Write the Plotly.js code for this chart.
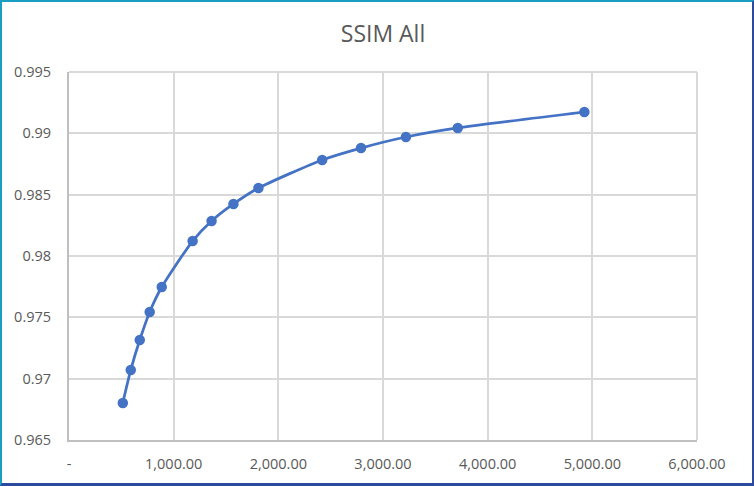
<!DOCTYPE html>
<html>
<head>
<meta charset="utf-8">
<script src="https://cdn.plot.ly/plotly-3.0.1.min.js"></script>
<style>
    html, body { margin: 0; padding: 0; background: #fff; }
    #frame {
        width: 754px; height: 486px; box-sizing: border-box;
        border-top: 2px solid #1a9fc2; border-left: 2px solid #1a9fc2;
        border-right: 2px solid #2d4b9e; border-bottom: 3px solid #2d4b9e;
    }
    #chart { width: 750px; height: 481px; }
</style>
</head>
<body>
<div id="frame"><div id="chart"></div></div>
<script>
// SSIM All - bitrate vs ssim
const bitrate = [514, 590, 676, 771, 886, 1181, 1362, 1571, 1810, 2419, 2790, 3219, 3714, 4924];
const ssim = [0.96802, 0.97071, 0.97315, 0.97544, 0.97747, 0.98122, 0.98285, 0.98424, 0.98554,
              0.98783, 0.98880, 0.98970, 0.99044, 0.99174];

const xTickVals = [0, 1000, 2000, 3000, 4000, 5000, 6000];
const xTickText = ['-', '1,000.00', '2,000.00', '3,000.00', '4,000.00', '5,000.00', '6,000.00'];
const yTickVals = [0.965, 0.97, 0.975, 0.98, 0.985, 0.99, 0.995];
const yTickText = ['0.965', '0.97', '0.975', '0.98', '0.985', '0.99', '0.995'];

const trace = {
    x: bitrate,
    y: ssim,
    type: 'scatter',
    mode: 'lines+markers',
    line: { color: '#4472C4', width: 2.75, shape: 'spline', smoothing: 0.6 },
    marker: { color: '#4472C4', size: 10.5 },
    hoverinfo: 'x+y'
};

const layout = {
    width: 750,
    height: 481,
    paper_bgcolor: '#ffffff',
    plot_bgcolor: '#ffffff',
    margin: { l: 67, r: 55, t: 70, b: 43 },
    showlegend: false,
    font: { family: 'Open Sans, Noto Sans, sans-serif', color: '#595959', size: 14.5 },
    title: {
        text: 'SSIM All',
        x: 0.5, xref: 'paper', xanchor: 'center',
        y: 0.9335, yref: 'container', yanchor: 'middle',
        font: { size: 23, color: '#595959' }
    },
    // top and right edges of the plot area, drawn like grid lines
    shapes: [
        { type: 'line', xref: 'paper', yref: 'paper', x0: 0, x1: 1, y0: 1, y1: 1,
          line: { color: '#d9d9d9', width: 2 }, layer: 'below' },
        { type: 'line', xref: 'paper', yref: 'paper', x0: 1, x1: 1, y0: 0, y1: 1,
          line: { color: '#d9d9d9', width: 2 }, layer: 'below' }
    ],
    xaxis: {
        range: [0, 6000],
        tickvals: xTickVals,
        ticktext: xTickText,
        showgrid: true,
        gridcolor: '#d9d9d9',
        gridwidth: 2,
        showline: true,
        linecolor: '#bfbfbf',
        linewidth: 2,
        zeroline: false,
        ticks: '',
        ticklen: 0,
        ticklabelstandoff: 10,
        tickfont: { size: 14.5, color: '#595959' },
        fixedrange: true
    },
    yaxis: {
        range: [0.965, 0.995],
        tickvals: yTickVals,
        ticktext: yTickText,
        showgrid: true,
        gridcolor: '#d9d9d9',
        gridwidth: 2,
        showline: true,
        linecolor: '#bfbfbf',
        linewidth: 2,
        zeroline: false,
        // invisible ticks push the labels away from the axis
        ticks: 'outside',
        ticklen: 13,
        tickcolor: 'rgba(0,0,0,0)',
        tickfont: { size: 14.5, color: '#595959' },
        fixedrange: true
    }
};

Plotly.newPlot('chart', [trace], layout, { displayModeBar: false, staticPlot: true });
</script>
</body>
</html>
